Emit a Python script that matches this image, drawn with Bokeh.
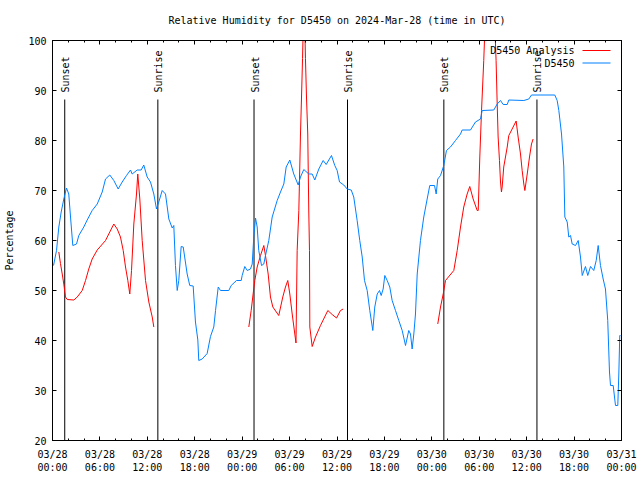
import math
from bokeh.plotting import figure
from bokeh.models import LinearAxis, FixedTicker, Range1d, Label, BoxAnnotation, ColumnDataSource
from bokeh.core.properties import value
from bokeh.embed import file_html
from bokeh.resources import INLINE

NAN = float("nan")

TITLE = "Relative Humidity for D5450 on 2024-Mar-28 (time in UTC)"
Y_LABEL = "Percentage"
SERIES_NAMES = ["D5450 Analysis", "D5450"]

# hours since 2024-03-28 00:00 UTC
station_hours = [0.13, 0.51, 0.80, 1.10, 1.43, 1.77, 2.06, 2.28, 2.57, 3.04,
                 3.33, 3.96, 4.39, 5.02, 5.66, 6.29, 6.71, 7.25, 7.76, 8.31,
                 8.82, 9.36, 9.87, 10.08, 10.72, 11.22, 11.55, 11.98, 12.40, 12.82,
                 13.16, 13.45, 13.88, 14.30, 14.72, 15.15, 15.35, 15.56, 15.78, 15.98,
                 16.28, 16.54, 17.04, 17.37, 17.80, 18.09, 18.39, 18.51, 18.94, 19.57,
                 19.99, 20.41, 20.63, 20.97, 21.26, 22.31, 22.61, 23.28, 23.88, 24.00,
                 24.33, 24.64, 25.05, 25.27, 25.47, 25.69, 25.90, 26.10, 26.45, 26.74,
                 26.95, 27.37, 27.80, 28.43, 28.85, 29.27, 29.57, 30.03, 30.53, 31.09,
                 31.38, 31.80, 32.43, 32.86, 33.19, 33.70, 34.25, 34.63, 35.30, 35.72,
                 36.02, 36.32, 36.86, 37.29, 37.80, 38.12, 38.55, 38.88, 39.19, 39.48,
                 39.82, 40.15, 40.53, 40.78, 41.09, 41.38, 41.59, 41.84, 42.05, 42.35,
                 42.68, 42.98, 43.40, 43.82, 44.25, 44.67, 45.08, 45.30, 45.51, 45.72,
                 45.93, 46.15, 46.56, 46.98, 47.41, 47.74, 48.34, 48.55, 48.75, 49.10,
                 49.51, 49.85, 50.36, 50.99, 51.63, 51.84, 52.89, 53.52, 54.16, 54.37,
                 55.84, 56.27, 56.69, 57.03, 57.54, 57.74, 59.64, 60.27, 60.61, 63.56,
                 63.86, 64.07, 64.41, 64.70, 64.83, 65.13, 65.33, 65.55, 65.76, 66.18,
                 66.52, 66.81, 67.03, 67.44, 67.73, 68.08, 68.49, 68.80, 69.05, 69.34,
                 69.68, 69.97, 70.26, 70.48, 70.61, 70.95, 71.24, 71.53, 71.66, 71.78,
                 71.87]
station_rh = [55, 58, 62.7, 65.7, 68.3, 70.5, 69.3, 64.7, 59, 59.3,
              61, 62.7, 64.1, 66, 67.3, 69.7, 72.3, 73.1, 72, 70.3,
              71.7, 73, 74.1, 73.3, 74.1, 74.1, 75.1, 72.7, 71.7, 69.3,
              66.3, 67.7, 70, 69.3, 64.3, 62.5, 63, 55, 50, 52,
              58.8, 58.7, 53.3, 51, 50.9, 43.7, 40.1, 36, 36.3, 37.4,
              40.8, 42.7, 46, 50.7, 50, 50, 51, 52, 52, 53,
              54.8, 54, 54.3, 55.3, 60.7, 64.5, 62.7, 58, 55, 55.3,
              57, 60, 64.7, 68, 69.7, 71.3, 74.7, 76.1, 73.3, 71.1,
              72.7, 74.2, 73.3, 73.3, 72.1, 74.3, 76, 75.2, 77, 75,
              74, 71.7, 71.1, 70.3, 70.1, 68.7, 64, 60, 56.7, 52,
              50, 46, 42, 46.7, 49.3, 50, 49, 50.3, 53, 52,
              50.7, 48, 46, 44, 42, 39, 42, 41.3, 38.3, 41.3,
              45.3, 53.3, 60, 64.7, 68.3, 71, 71, 69.3, 72.3, 73,
              75, 78, 78.7, 80, 81.3, 82.1, 82.1, 83.7, 84.3, 86,
              86.1, 87.3, 88, 87.2, 87.2, 88.1, 88, 88.3, 89.1, 89.1,
              88, 86, 81.3, 74.7, 64.7, 63.7, 60.7, 61, 59.3, 59,
              60, 56.7, 53, 54.8, 53, 54.8, 54, 56, 59, 55,
              52.3, 50.3, 44, 33.7, 31, 31, 27, 27, 33.3, 41,
              41]

# analysis series, NaN marks the gaps between the three daily runs
analysis_hours = [0.80, 1.01, 1.23, 1.43, 1.64, 1.86, 2.70, 3.13, 3.76, 4.18,
                  4.59, 5.02, 5.66, 6.71, 7.25, 7.76, 8.19, 8.60, 8.95, 9.24,
                  9.53, 9.78, 10.00, 10.29, 10.63, 10.79, 11.05, 11.35, 11.77, 12.19,
                  12.62, 12.82, 18.0,
                  24.84, 25.14, 25.34, 25.60, 25.90, 26.32, 26.74, 26.95, 27.29, 27.58,
                  27.88, 28.63, 29.14, 29.48, 29.77, 30.03, 30.33, 30.66, 30.81, 30.96,
                  31.17, 31.38, 31.51, 31.64, 31.83, 32.01, 32.14, 32.30, 32.43, 32.52,
                  32.56, 32.86, 33.28, 33.91, 34.84, 35.39, 35.94, 36.44, 36.78, 42.0,
                  48.75, 49.10, 49.44, 49.73, 50.78, 51.21, 51.63, 52.04, 52.47, 52.80,
                  53.23, 53.74, 53.87, 54.07, 54.29, 54.57, 55.35, 56.13, 56.27, 56.39,
                  56.56, 56.69, 56.81, 56.90, 57.10, 57.54, 57.74, 58.16, 58.67, 58.92,
                  59.22, 59.43, 59.64, 59.77, 60.07, 60.36, 60.61, 60.82]
analysis_rh = [57.7, 55.4, 53.3, 51.3, 48.7, 48.2, 48.1, 48.7, 50, 52,
               54.3, 56.3, 58.1, 60, 61.7, 63.3, 62.3, 60.7, 58, 54.7,
               52, 49.3, 54, 63.3, 69.3, 73.3, 68.3, 60, 52, 47.7,
               44.7, 42.7, NAN,
               42.7, 46, 48.7, 52, 54.7, 57, 59, 57, 53.3, 48.7,
               46.7, 45, 48.7, 50.7, 52, 49.3, 45.3, 41.3, 39.5, 58,
               66, 81.3, 88.7, 96.4, 110, 96.4, 88.7, 81.3, 65.7, 58,
               42.7, 38.8, 40.7, 43, 46, 45.2, 44.5, 46, 46.3, NAN,
               43.3, 46.7, 49.3, 52, 54, 58, 62.7, 66.7, 69.3, 70.8,
               68.3, 66, 66, 76.7, 86, 96, 130, 96, 87.3, 80.7,
               76, 71.7, 69.7, 70.7, 74.7, 78.7, 81, 82.3, 83.9, 80.7,
               77.3, 74, 71.3, 70, 73.3, 76.7, 79.3, 80.3]

sun_hours = [1.55, 13.33, 25.5, 37.33, 49.52, 61.3]
sun_labels = ["Sunset", "Sunrise", "Sunset", "Sunrise", "Sunset", "Sunrise"]
sun_line_top = 88.2
sun_line_bottom = 20

x_ticks = [0, 6, 12, 18, 24, 30, 36, 42, 48, 54, 60, 66, 72]
x_minor_ticks = list(range(0, 73, 2))
x_tick_labels = ["03/28\n00:00", "03/28\n06:00", "03/28\n12:00", "03/28\n18:00",
                 "03/29\n00:00", "03/29\n06:00", "03/29\n12:00", "03/29\n18:00",
                 "03/30\n00:00", "03/30\n06:00", "03/30\n12:00", "03/30\n18:00",
                 "03/31\n00:00"]
y_ticks = [20, 30, 40, 50, 60, 70, 80, 90, 100]

RED = "#ff0000"
BLUE = "#0080ff"
FONT = "DejaVu Sans Mono"
FS = "10px"

p = figure(width=640, height=480, output_backend="svg", toolbar_location=None,
           x_range=Range1d(0, 72), y_range=Range1d(20, 100),
           min_border_left=52, min_border_right=19, min_border_top=40, min_border_bottom=40)
p.background_fill_color = "white"
p.border_fill_color = "white"
p.outline_line_color = "black"
p.outline_line_width = 1
p.xgrid.grid_line_color = None
p.ygrid.grid_line_color = None

def style_axis(ax, ticker, minor=True):
    ax.ticker = ticker
    ax.axis_line_color = "black"
    ax.major_tick_in = 4
    ax.major_tick_out = 0
    ax.minor_tick_in = 2 if minor else 0
    ax.minor_tick_out = 0
    ax.major_tick_line_color = "black"
    ax.minor_tick_line_color = "black" if minor else None
    ax.major_label_text_font = FONT
    ax.major_label_text_font_size = FS
    ax.major_label_text_color = "black"

xax = p.xaxis[0]
style_axis(xax, FixedTicker(ticks=x_ticks, minor_ticks=x_minor_ticks))
xax.major_label_overrides = dict(zip(x_ticks, x_tick_labels))
xax.major_label_standoff = 8

yax = p.yaxis[0]
style_axis(yax, FixedTicker(ticks=y_ticks, minor_ticks=[]), minor=False)
yax.major_label_standoff = 6
yax.axis_label = Y_LABEL
yax.axis_label_text_font = FONT
yax.axis_label_text_font_size = FS
yax.axis_label_text_font_style = "normal"
yax.axis_label_text_color = "black"
yax.axis_label_standoff = 10

# mirrored top axis; it also carries the chart title, centred over the plot box
top = LinearAxis()
style_axis(top, FixedTicker(ticks=x_ticks, minor_ticks=x_minor_ticks))
top.major_label_overrides = {t: "" for t in x_ticks}
top.major_label_standoff = 0
top.axis_label = TITLE
top.axis_label_text_font = FONT
top.axis_label_text_font_size = FS
top.axis_label_text_font_style = "normal"
top.axis_label_text_color = "black"
top.axis_label_standoff = 15
p.add_layout(top, "above")

right = LinearAxis()
style_axis(right, FixedTicker(ticks=y_ticks, minor_ticks=[]), minor=False)
right.major_label_overrides = {t: "" for t in y_ticks}
right.major_label_standoff = 0
p.add_layout(right, "right")

# sunrise / sunset markers
sun_src = ColumnDataSource(dict(x=sun_hours, label=sun_labels,
                                y0=[sun_line_bottom] * len(sun_hours),
                                y1=[sun_line_top] * len(sun_hours)))
p.segment(x0="x", y0="y0", x1="x", y1="y1", source=sun_src, line_color="black", line_width=1)
p.text(x="x", y="y1", text="label", source=sun_src, angle=math.pi / 2,
       text_align="left", text_baseline="alphabetic", x_offset=1, y_offset=-7,
       text_font=value(FONT), text_font_size=value(FS), text_color="black")

# data
p.line(analysis_hours, analysis_rh, line_color=RED, line_width=1)
p.line(station_hours, station_rh, line_color=BLUE, line_width=1)

# gnuplot-style key (text first, line sample after it)
for i, (name, col) in enumerate(zip(SERIES_NAMES, [RED, BLUE])):
    ypos = 390 - 12.5 * i
    p.add_layout(Label(x=522, y=ypos, x_units="screen", y_units="screen", text=name,
                       text_align="right", text_baseline="middle",
                       text_font=FONT, text_font_size=FS, text_color="black"))
    p.add_layout(BoxAnnotation(left=530, right=558, bottom=ypos - 0.5, top=ypos + 0.5,
                               left_units="screen", right_units="screen",
                               bottom_units="screen", top_units="screen",
                               fill_color=col, fill_alpha=1, line_color=None))

open("out.html", "w").write(file_html(p, INLINE))
